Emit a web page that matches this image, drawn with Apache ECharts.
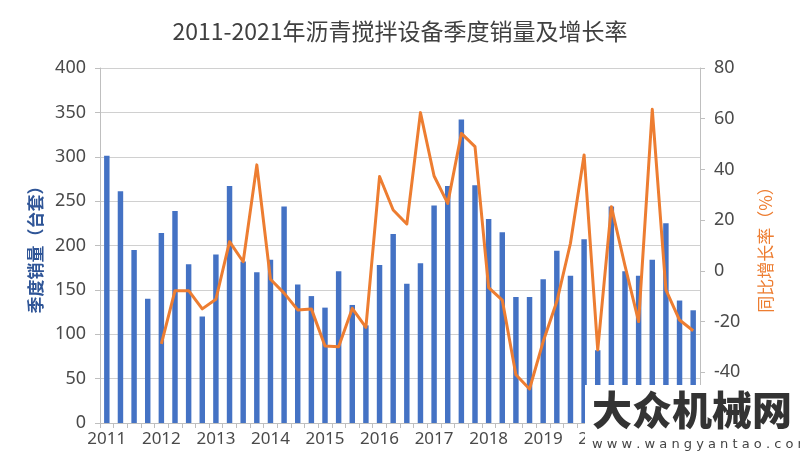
<!DOCTYPE html>
<html>
<head>
<meta charset="utf-8">
<script src="https://cdn.jsdelivr.net/npm/echarts@6/dist/echarts.min.js"></script>
<style>html,body{margin:0;padding:0;background:#fff;}#c{width:800px;height:465px;}</style>
</head>
<body>
<div id="c"></div>
<script>
// Quarterly categories 2011Q1 .. 2021Q4
var quarters = [
  '2011Q1','2011Q2','2011Q3','2011Q4','2012Q1','2012Q2','2012Q3','2012Q4',
  '2013Q1','2013Q2','2013Q3','2013Q4','2014Q1','2014Q2','2014Q3','2014Q4',
  '2015Q1','2015Q2','2015Q3','2015Q4','2016Q1','2016Q2','2016Q3','2016Q4',
  '2017Q1','2017Q2','2017Q3','2017Q4','2018Q1','2018Q2','2018Q3','2018Q4',
  '2019Q1','2019Q2','2019Q3','2019Q4','2020Q1','2020Q2','2020Q3','2020Q4',
  '2021Q1','2021Q2','2021Q3','2021Q4'
];
// Quarterly sales (units)
var sales = [
  301, 261, 195, 140,
  214, 239, 179, 120,
  190, 267, 182, 170,
  184, 244, 156, 143,
  130, 171, 133, 110,
  178, 213, 157, 180,
  245, 267, 342, 268,
  230, 215, 142, 142,
  162, 194, 166, 207,
  82, 244, 171, 166,
  184, 225, 138, 127
];
// Year-on-year growth (%)
var growth = [
  null, null, null, null,
  -28.8, -7.8, -7.8, -15,
  -11.2, 11.5, 3.6, 41.8,
  -3.3, -8.8, -15.4, -15,
  -29.6, -29.9, -14.8, -22.3,
  37.2, 24, 18.5, 62.4,
  37.4, 26.6, 54.2, 49,
  -6.6, -11.5, -41, -46.6,
  -27.9, -12.1, 10.9, 45.7,
  -31.2, 25.3, 2, -20,
  63.7, -7.5, -19.4, -23.6
];
var leftTicks = {min: 0, max: 400, interval: 50};
var rightTicks = {min: -60, max: 80, interval: 20};

var chart = echarts.init(document.getElementById('c'), null, {renderer: 'canvas'});
var font = '"Noto Sans", "Noto Sans CJK SC", sans-serif';
var cjk = '"Noto Sans CJK SC", sans-serif';
chart.setOption({
  animation: false,
  backgroundColor: '#ffffff',
  title: {
    text: '2011-2021年沥青搅拌设备季度销量及增长率',
    left: 'center',
    top: 15,
    textStyle: {fontFamily: cjk, fontSize: 23, fontWeight: 'normal', color: '#404040'}
  },
  grid: {left: 100, right: 100, top: 68, bottom: 42, containLabel: false},
  xAxis: {
    type: 'category',
    data: quarters,
    boundaryGap: true,
    axisLine: {lineStyle: {color: '#bfbfbf', width: 1}},
    axisTick: {show: true, interval: 0, length: 5, lineStyle: {color: '#bfbfbf'}},
    axisLabel: {
      interval: 3, margin: 8, fontSize: 17, color: '#4a4a4a', fontFamily: font,
      formatter: function (v) { return v.slice(0, 4); }
    },
    splitLine: {show: false}
  },
  yAxis: [
    {
      type: 'value',
      min: leftTicks.min, max: leftTicks.max, interval: leftTicks.interval,
      name: '季度销量（台套）',
      nameLocation: 'middle',
      nameRotate: 90,
      nameGap: 51,
      nameTextStyle: {fontFamily: cjk, fontSize: 17, fontWeight: 'bold', color: '#2F5597'},
      axisLine: {show: true, lineStyle: {color: '#bfbfbf'}},
      axisTick: {show: true, length: 5, lineStyle: {color: '#bfbfbf'}},
      axisLabel: {fontSize: 18, color: '#4a4a4a', margin: 14, fontFamily: font},
      splitLine: {show: true, lineStyle: {color: '#d0d0d0', width: 1}}
    },
    {
      type: 'value',
      position: 'right',
      min: rightTicks.min, max: rightTicks.max, interval: rightTicks.interval,
      name: '同比增长率（%）',
      nameLocation: 'middle',
      nameRotate: 90,
      nameGap: 57,
      nameTextStyle: {fontFamily: cjk, fontSize: 17, fontWeight: 'normal', color: '#ED7D31'},
      axisLine: {show: true, lineStyle: {color: '#bfbfbf'}},
      axisTick: {show: true, length: 5, lineStyle: {color: '#bfbfbf'}},
      axisLabel: {fontSize: 18, color: '#4a4a4a', margin: 14, fontFamily: font},
      splitLine: {show: false}
    }
  ],
  series: [
    {
      type: 'bar',
      name: '季度销量',
      data: sales,
      barWidth: '40%',
      itemStyle: {color: '#4472C4'},
      z: 2
    },
    {
      type: 'line',
      name: '同比增长率',
      yAxisIndex: 1,
      data: growth,
      showSymbol: false,
      symbol: 'none',
      connectNulls: false,
      lineStyle: {color: '#ED7D31', width: 3, join: 'round'},
      itemStyle: {color: '#ED7D31'},
      z: 3
    }
  ],
  graphic: [
    {type: 'rect', left: 585, top: 385, z: 100,
     shape: {width: 215, height: 80}, style: {fill: '#ffffff'}},
    {type: 'text', left: 592, top: 390, z: 101,
     style: {text: '大众机械网', font: '900 40px "Noto Sans CJK SC"', fill: '#333333'}},
    {type: 'text', left: 592, top: 438, z: 101,
     style: {text: 'w w w . w a n g y a n t a o . c o m', font: '13px "DejaVu Sans"', fill: '#444444'}}
  ]
});
</script>
</body>
</html>
